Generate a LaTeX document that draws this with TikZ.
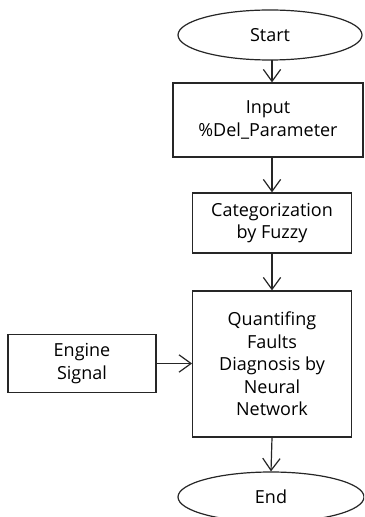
\documentclass[tikz,border=0pt]{standalone}
\usepackage{fontspec}
\setmainfont{Open Sans}
\usetikzlibrary{shapes.geometric,arrows.meta}
\begin{document}
\begin{tikzpicture}[x=0.75pt,y=-0.75pt,
  every node/.style={font=\fontsize{13.5pt}{16.9pt}\selectfont, align=center, inner sep=0pt, line width=0.9pt, draw=black!85},
  termbox/.style={ellipse, minimum width=138pt, minimum height=37.5pt},
  procbox/.style={rectangle},
  conn/.style={line width=0.9pt, draw=black!85, -{Straight Barb[length=9pt,width=13pt,line width=0.9pt]}}]
\clip (0,0) rectangle (364,517);
\fill[white] (0,0) rectangle (364,517);
\node[termbox] (start) at (270,35) {Start};
\node[procbox, minimum width=142.5pt, minimum height=55.5pt] (input) at (268,120) {Input\\\%Del\_Parameter};
\node[procbox, minimum width=119pt, minimum height=45pt] (cat) at (272,223) {Categorization\\by Fuzzy};
\node[procbox, minimum width=119pt, minimum height=109.5pt] (quant) at (272,364) {Quantifing\\Faults\\Diagnosis by\\Neural\\Network};
\node[procbox, minimum width=111pt, minimum height=44pt] (engine) at (82,363.5) {Engine\\Signal};
\node[termbox, minimum width=139.5pt] (end) at (271,497) {End};
\coordinate (a1) at (272,60);
\coordinate (a2) at (272,157);
\draw[conn] (a1) -- (a1 |- input.north);
\draw[conn] (a2) -- (a2 |- cat.north);
\draw[conn] (cat.south) -- (quant.north);
\draw[conn] (quant.south) -- (end.north);
\draw[conn] (engine.east) -- (engine.east -| quant.west);
\end{tikzpicture}
\end{document}
